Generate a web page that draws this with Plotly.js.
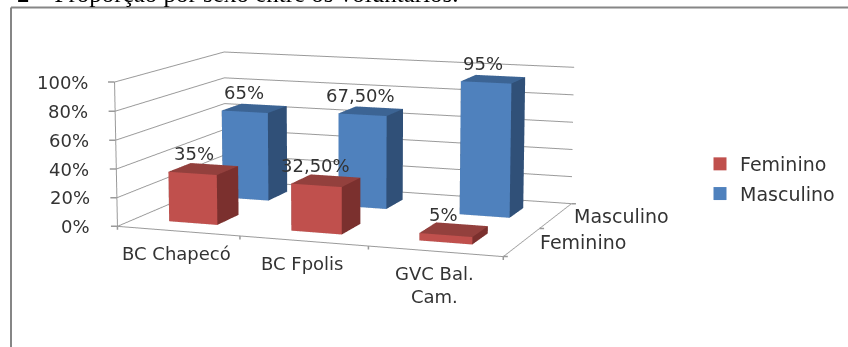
<!DOCTYPE html>
<html>
<head>
<meta charset="utf-8">
<script src="https://cdn.plot.ly/plotly-3.0.1.min.js"></script>
<style>
  html, body { margin: 0; padding: 0; background: #fff; width: 848px; height: 347px; overflow: hidden; }
  #frame { position: absolute; left: 0; top: 0; width: 848px; height: 347px; overflow: hidden; }
  /* Tall plot area gives the 3D view a long focal length; only the middle band is shown. */
  #chart { position: absolute; left: 0; top: -655px; width: 848px; height: 1600px; }
</style>
</head>
<body>
<div id="frame"><div id="chart"></div></div>
<script>
const categories = ['BC Chapecó', 'BC Fpolis', 'GVC Bal.<br>Cam.'];
const seriesNames = ['Feminino', 'Masculino'];
const feminino = [35, 32.5, 5];
const masculino = [65, 67.5, 95];
const femininoLabels = ['35%', '32,50%', '5%'];
const masculinoLabels = ['65%', '67,50%', '95%'];
const valueTicks = [0, 20, 40, 60, 80, 100];
const valueTickLabels = ['0%', '20%', '40%', '60%', '80%', '100%'];
const categoryTicks = [0, 1, 2, 3];
const seriesTicks = [0, 1, 2];
const heading = '2 – Proporção por sexo entre os voluntários.';

const redFaces = { front: '#C0504D', top: '#93403D', side: '#7B302E' };
const blueFaces = { front: '#4F81BD', top: '#3C6494', side: '#305078' };
const inkColor = '#333333';
const gridColor = '#9a9a9a';
const labelFont = { family: 'DejaVu Sans', size: 18, color: inkColor };
const seriesFont = { family: 'DejaVu Sans', size: 19, color: inkColor };

const barCentre = 0.485;
const barHalfWidth = 0.2;
const barHalfDepth = 0.2;

// One mesh3d cuboid per bar, with a flat colour on each visible face.
function barTrace(cat, row, value, faces, name) {
  const x0 = cat + barCentre - barHalfWidth, x1 = cat + barCentre + barHalfWidth;
  const y0 = row + 0.5 - barHalfDepth, y1 = row + 0.5 + barHalfDepth;
  const tris = [
    [0, 1, 5, faces.front], [0, 5, 4, faces.front],
    [1, 2, 6, faces.side], [1, 6, 5, faces.side],
    [4, 5, 6, faces.top], [4, 6, 7, faces.top],
    [3, 2, 6, faces.side], [3, 6, 7, faces.side],
    [0, 3, 7, faces.side], [0, 7, 4, faces.side],
    [0, 1, 2, faces.side], [0, 2, 3, faces.side]
  ];
  return {
    type: 'mesh3d',
    name: name,
    legendgroup: name,
    showlegend: false,
    x: [x0, x1, x1, x0, x0, x1, x1, x0],
    y: [y0, y0, y1, y1, y0, y0, y1, y1],
    z: [0, 0, 0, 0, value, value, value, value],
    i: tris.map(t => t[0]),
    j: tris.map(t => t[1]),
    k: tris.map(t => t[2]),
    facecolor: tris.map(t => t[3]),
    flatshading: true,
    lighting: { ambient: 1, diffuse: 0, specular: 0, roughness: 1, fresnel: 0 },
    hoverinfo: 'skip'
  };
}

const traces = [];
// Back row first, then front row.
masculino.forEach((v, c) => traces.push(barTrace(c, 1, v, blueFaces, seriesNames[1])));
feminino.forEach((v, c) => traces.push(barTrace(c, 0, v, redFaces, seriesNames[0])));

// Legend entries with square swatches.
[[seriesNames[0], redFaces.front], [seriesNames[1], blueFaces.front]].forEach(([name, color]) => {
  traces.push({
    type: 'scatter3d', mode: 'markers', name: name, legendgroup: name,
    x: [null], y: [null], z: [null],
    marker: { symbol: 'square', size: 13, color: color }
  });
});

const annotations = [];
function sceneLabel(x, y, z, text, xanchor, yanchor, xshift, yshift, font) {
  annotations.push({ x, y, z, text, xanchor, yanchor, xshift, yshift, showarrow: false, font: font || labelFont });
}
// Tick marks: short pixel-length strokes anchored on the scene axes.
function tickMark(x, y, z, ax, ay) {
  annotations.push({
    x, y, z, text: '', showarrow: true, arrowhead: 0, arrowwidth: 1.5, arrowcolor: gridColor,
    ax, ay, standoff: 0, startstandoff: 0
  });
}
valueTicks.forEach((t, i) => {
  tickMark(0, 0, t, -8, 0);
  sceneLabel(0, 0, t, valueTickLabels[i], 'right', 'middle', -25, 0);
});
categoryTicks.forEach(t => tickMark(t, 0, 0, 0, 5));
seriesTicks.forEach(t => tickMark(3, t, 0, 6, 0));
categories.forEach((c, i) => sceneLabel(i + 0.5, 0, 0, c, 'center', 'top', -1, -10));
seriesNames.forEach((s, i) => sceneLabel(3, i + 0.5, 0, s, 'left', 'middle', 16, 0, seriesFont));
feminino.forEach((v, c) => sceneLabel(c + barCentre, 0.5, v, femininoLabels[c], 'center', 'bottom', -10, 3));
masculino.forEach((v, c) => sceneLabel(c + barCentre, 1.5, v, masculinoLabels[c], 'center', 'bottom', -10, 3));

const plotHeight = 1600, plotTop = 655;
const paperY = px => 1 - (px + plotTop) / plotHeight;

// Axis settings shared by the three scene axes.
function sceneAxis(range, tickvals, showgrid) {
  return {
    range, tickmode: 'array', tickvals, title: { text: '' },
    showbackground: false, showgrid, gridcolor: gridColor, gridwidth: 2,
    zeroline: false, showspikes: false,
    showline: true, linecolor: gridColor, linewidth: 2,
    ticks: '', showticklabels: false
  };
}

const layout = {
  width: 848,
  height: plotHeight,
  margin: { l: 0, r: 0, t: 0, b: 0 },
  paper_bgcolor: '#ffffff',
  font: labelFont,
  scene: {
    domain: { x: [0, 0.8278], y: [0, 1] },
    aspectmode: 'manual',
    aspectratio: { x: 1.01, y: 0.68, z: 0.368 },
    camera: {
      projection: { type: 'perspective' },
      eye: { x: 1.685, y: -4.635, z: 0.825 },
      center: { x: 0, y: 0, z: 0 },
      up: { x: 0, y: 0, z: 1 }
    },
    xaxis: sceneAxis([0, 3], categoryTicks, false),
    yaxis: sceneAxis([0, 2], seriesTicks, false),
    zaxis: sceneAxis([0, 100], valueTicks, true),
    annotations: annotations
  },
  showlegend: true,
  legend: {
    x: 700 / 848, y: paperY(145), xanchor: 'left', yanchor: 'top',
    font: seriesFont,
    tracegroupgap: 2, bgcolor: 'rgba(0,0,0,0)'
  },
  shapes: [
    { type: 'line', xref: 'paper', yref: 'paper', x0: 11 / 848, x1: 1, y0: paperY(7.5), y1: paperY(7.5), line: { color: '#868686', width: 2 } },
    { type: 'line', xref: 'paper', yref: 'paper', x0: 11 / 848, x1: 11 / 848, y0: paperY(7.5), y1: paperY(347), line: { color: '#868686', width: 2 } }
  ],
  annotations: [
    {
      xref: 'paper', yref: 'paper', x: 15 / 848, y: paperY(-22), xanchor: 'left', yanchor: 'top', showarrow: false,
      text: heading, font: { family: 'Liberation Serif', size: 25, color: '#000000' }
    }
  ]
};

Plotly.newPlot('chart', traces, layout, { displayModeBar: false });
</script>
</body>
</html>
